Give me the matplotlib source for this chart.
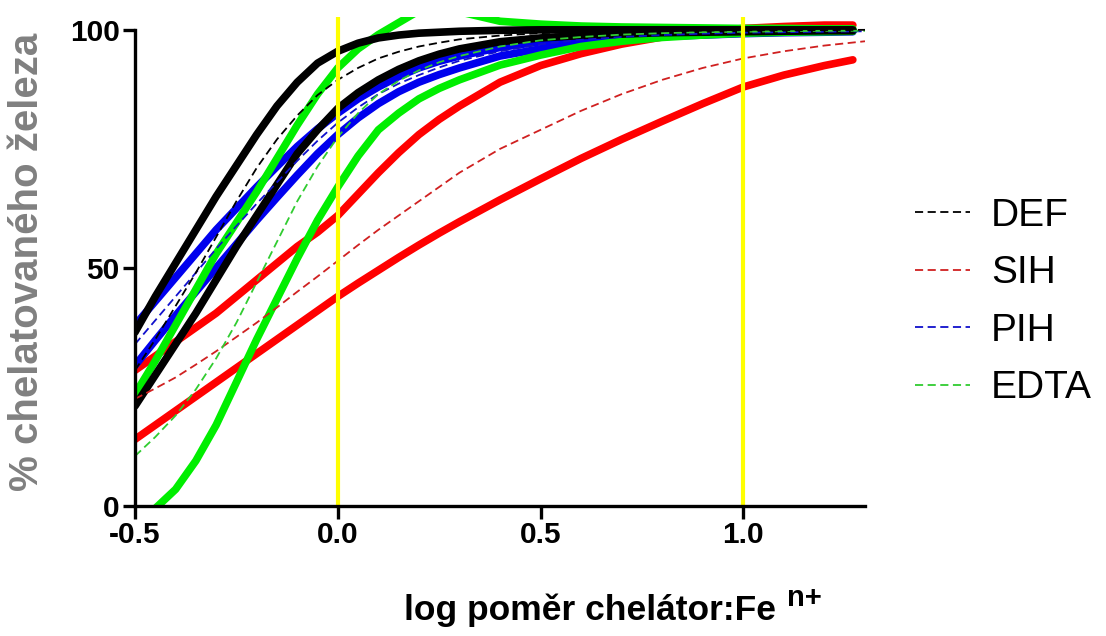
import matplotlib
matplotlib.use("Agg")
import matplotlib.pyplot as plt

plt.rcParams['font.family'] = ['Liberation Sans', 'DejaVu Sans']

# x values (log chelator:Fe ratio)
x_fit = [-0.5, -0.45, -0.4, -0.35, -0.3, -0.25, -0.2, -0.15, -0.1, -0.05, 0.0, 0.05, 0.1, 0.15,
         0.2, 0.25, 0.3, 0.4, 0.5, 0.6, 0.7, 0.8, 0.9, 1.0, 1.1, 1.2, 1.3]
x_band = x_fit[:-1] + [1.27]

# DEF
def_hi = [36.5, 44, 51, 58, 65, 71.5, 78, 84, 89, 93, 95.5, 97.2, 98.3, 98.9,
          99.3, 99.5, 99.7, 99.9, 100, 100, 100, 100, 100, 100, 100, 100, 100]
def_fit = [28.5, 35, 42, 49, 56.5, 64, 71, 77, 82, 86.3, 89.5, 92, 94, 95.4,
           96.5, 97.3, 98, 98.8, 99.3, 99.6, 99.7, 99.8, 99.85, 99.9, 99.9, 99.95, 100]
def_lo = [21, 27.5, 34, 40.5, 47.5, 54.5, 61, 67.5, 74, 79, 83.5, 86.8, 89.5, 91.7,
          93.5, 94.9, 96, 97.5, 98.3, 98.8, 99.1, 99.4, 99.5, 99.6, 99.7, 99.8, 99.8]

# SIH
sih_hi = [28.5, 31.5, 34.5, 37.5, 40.5, 44, 47.5, 51, 54.5, 57.5, 61, 65.5, 70, 74.2,
          78, 81.2, 84, 89, 92.5, 95, 97, 98.5, 99.5, 100.3, 100.7, 101, 101]
sih_fit = [22.5, 24.7, 27, 29.7, 32.5, 35.5, 38.5, 41.7, 45, 48.2, 51.5, 54.8, 58, 61,
           64, 67, 70, 75, 79, 83, 86.5, 89.5, 92, 94, 95.5, 96.7, 97.6]
sih_lo = [14, 17, 20, 23, 26, 29, 32, 35, 38, 41, 44, 46.8, 49.5, 52.2,
          54.8, 57.3, 59.7, 64.3, 68.7, 73, 77, 80.8, 84.5, 88, 90.5, 92.5, 93.7]

# PIH
pih_hi = [38, 43, 48, 53, 58, 62.5, 67, 71.3, 75.5, 79.2, 82.5, 85.5, 88, 90.2,
          92, 93.4, 94.5, 96.3, 97.5, 98.3, 98.8, 99.2, 99.4, 99.6, 99.7, 99.8, 99.8]
pih_fit = [34, 39, 44, 49, 54, 58.8, 63.5, 68, 72.5, 76.7, 80.5, 83.7, 86.5, 88.7,
           90.5, 92.1, 93.5, 95.5, 97, 97.9, 98.5, 98.9, 99.2, 99.4, 99.5, 99.6, 99.7]
pih_lo = [29.5, 34.8, 40, 45, 50, 55, 60, 64.8, 69.5, 74, 78, 81.5, 84.5, 87,
          89, 90.6, 92, 94.5, 96, 97.3, 98, 98.6, 98.9, 99.2, 99.4, 99.5, 99.6]

# EDTA
edta_hi = [23.5, 30.5, 38, 45.5, 53, 59.5, 66, 73, 80, 86.5, 92, 96, 99, 101.5,
           104, 104.5, 103.8, 101.8, 101.2, 100.8, 100.6, 100.5, 100.4, 100.3, 100.3, 100.2, 100.2]
edta_fit = [10.5, 14.5, 19, 24.5, 31, 38.5, 47, 55.5, 64, 71.3, 77.5, 82.5, 86.5, 89.3,
            91.5, 93.2, 94.5, 96.5, 97.8, 98.5, 99, 99.3, 99.5, 99.6, 99.7, 99.8, 99.8]
edta_lo = [-6, -0.5, 3.5, 9.5, 17, 26, 35, 43.5, 52, 60, 67, 73.5, 79, 82.5,
           85.5, 87.7, 89.5, 92.6, 94.7, 96.5, 97.6, 98.4, 98.9, 99.3, 99.5, 99.6, 99.7]

names = ["DEF", "SIH", "PIH", "EDTA"]
band_colors = ["#000000", "#FF0000", "#0000EE", "#00EE00"]
fit_colors = ["#000000", "#D02020", "#1010CC", "#30CC30"]
his = [def_hi, sih_hi, pih_hi, edta_hi]
fits = [def_fit, sih_fit, pih_fit, edta_fit]
los = [def_lo, sih_lo, pih_lo, edta_lo]

fig = plt.figure(figsize=(11.06, 6.36), dpi=100)
ax = fig.add_axes([0.1221, 0.2044, 0.66, 0.7689])

# draw order: red, blue, green, black
for i in [1, 2, 3, 0]:
    ax.plot(x_band, his[i], color=band_colors[i], lw=5.5, solid_capstyle='round')
    ax.plot(x_band, los[i], color=band_colors[i], lw=5.5, solid_capstyle='round')
for i in [1, 2, 3, 0]:
    ax.plot(x_fit, fits[i], color=fit_colors[i], lw=1.3, ls=(0, (4.5, 2.5)), label=names[i])

ax.axvline(0.0, color="#FFFF00", lw=3, zorder=5)
ax.axvline(1.0, color="#FFFF00", lw=3, zorder=5)

ax.set_xlim(-0.5, 1.3)
ax.set_ylim(0, 102.7)
ax.spines['top'].set_visible(False)
ax.spines['right'].set_visible(False)
ax.spines['left'].set_bounds(0, 100)
ax.spines['left'].set_linewidth(2.4)
ax.spines['bottom'].set_linewidth(2.4)
ax.spines['left'].set_zorder(6)
ax.spines['bottom'].set_zorder(6)
ax.set_xticks([-0.5, 0.0, 0.5, 1.0])
ax.set_xticklabels(["-0.5", "0.0", "0.5", "1.0"])
ax.set_yticks([0, 50, 100])
ax.tick_params(direction='out', length=9, width=2.4, labelsize=21.5, pad=2)
for lab in ax.get_xticklabels() + ax.get_yticklabels():
    lab.set_fontweight('bold')

handles, labels = ax.get_legend_handles_labels()
order = [labels.index(n) for n in names]
leg = ax.legend([handles[k] for k in order], [labels[k] for k in order],
                loc='center left', bbox_to_anchor=(1.0685, 0.417),
                frameon=False, borderaxespad=0, borderpad=0,
                fontsize=28, handlelength=1.41, handletextpad=0.55, labelspacing=0.55)

fig.text(27 / 1106, 1 - 262 / 636, "% chelatovaného železa", rotation=90,
         ha='center', va='center', fontsize=29, fontweight='bold', color='#808080')
fig.text(590 / 1106, 1 - 610 / 636, "log poměr chelátor:Fe", ha='center', va='center',
         fontsize=25.5, fontweight='bold')
fig.text(787 / 1106, 1 - 598 / 636, "n+", ha='left', va='center',
         fontsize=21, fontweight='bold')

fig.savefig("out.png", dpi=100)
